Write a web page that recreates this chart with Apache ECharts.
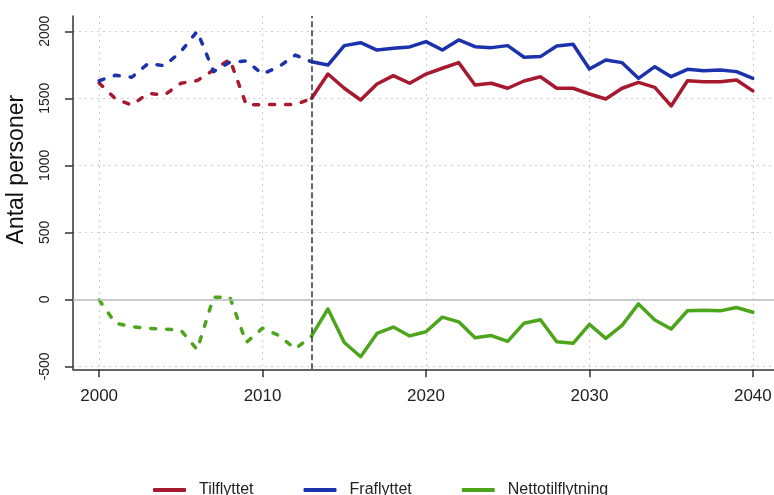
<!DOCTYPE html>
<html><head><meta charset="utf-8">
<script src="https://cdn.jsdelivr.net/npm/echarts@6/dist/echarts.min.js"></script>
<style>html,body{margin:0;padding:0;background:#fff}#c{width:774px;height:495px}</style>
</head><body><div id="c"></div>
<script>
const years = [2000,2001,2002,2003,2004,2005,2006,2007,2008,2009,2010,2011,2012,2013,2014,2015,2016,2017,2018,2019,2020,2021,2022,2023,2024,2025,2026,2027,2028,2029,2030,2031,2032,2033,2034,2035,2036,2037,2038,2039,2040];
const tilflyttet = [1615,1495,1450,1537,1525,1612,1632,1711,1790,1452,1452,1455,1452,1500,1681,1575,1487,1607,1669,1612,1681,1724,1766,1599,1612,1575,1629,1661,1575,1575,1532,1495,1575,1619,1582,1443,1631,1624,1624,1637,1555];
const fraflyttet = [1631,1672,1657,1760,1743,1848,2000,1699,1769,1778,1681,1736,1822,1773,1748,1893,1915,1860,1873,1883,1923,1860,1935,1885,1878,1893,1806,1811,1890,1903,1719,1786,1766,1649,1736,1661,1716,1706,1711,1699,1649];
const netto = [-5,-178,-204,-216,-222,-230,-375,15,15,-322,-215,-270,-370,-273,-72,-322,-428,-254,-207,-273,-242,-133,-168,-287,-270,-314,-178,-152,-316,-328,-187,-291,-194,-34,-154,-221,-85,-81,-86,-61,-96];
const seriesNames = ['Tilflyttet','Fraflyttet','Nettotilflytning'];
const xTicks = [2000,2010,2020,2030,2040];
const yTicks = [-500,0,500,1000,1500,2000];
const splitYear = 2013;

const colors = ['#A6192E','#1C32AC','#4DA51B'];
const splitIdx = years.indexOf(splitYear);
function pairs(vals, from, to){ return years.slice(from, to+1).map((y,i)=>[y, vals[from+i]]); }
const allVals = [tilflyttet, fraflyttet, netto];

const series = [];
series.push({
  type:'line', data:[], z:1, silent:true,
  markLine:{silent:true, symbol:'none', label:{show:false}, animation:false,
    data:[{yAxis:0, lineStyle:{color:'#bdbdbd', width:1.5, type:'solid'}}]}
});
allVals.forEach((vals,k)=>{
  series.push({name:seriesNames[k], type:'line', data:pairs(vals,0,splitIdx), showSymbol:false, symbol:'none', z:3,
    lineStyle:{color:colors[k], width:3.5, type:[5,11], cap:'round', join:'round'}, itemStyle:{color:colors[k]}});
  series.push({name:seriesNames[k], type:'line', data:pairs(vals,splitIdx,years.length-1), showSymbol:false, symbol:'none', z:3,
    lineStyle:{color:colors[k], width:3.5, type:'solid', cap:'round', join:'round'}, itemStyle:{color:colors[k]}});
});
series.push({
  type:'line', data:[], z:4, silent:true,
  markLine:{silent:true, symbol:'none', label:{show:false}, animation:false,
    data:[{xAxis:splitYear, lineStyle:{color:'#333', width:1.5, type:[6,3]}}]}
});

const chart = echarts.init(document.getElementById('c'), null, {renderer:'canvas'});
const font = 'Liberation Sans, Arial, Helvetica, sans-serif';
chart.setOption({
  animation:false,
  textStyle:{fontFamily:font},
  grid:{left:73, top:16, width:706, height:353.3, containLabel:false, outerBoundsMode:'none'},
  legend:{data:seriesNames, left:148, top:477, itemWidth:33, itemHeight:4, itemGap:50, icon:'roundRect',
    textStyle:{fontSize:16, color:'#222', fontFamily:font, padding:[0,0,0,8]}},
  xAxis:{type:'value', min:1998.4, max:2041.6,
    axisLine:{onZero:false, lineStyle:{color:'#333', width:1.5}},
    axisTick:{show:true, length:8, customValues:xTicks, lineStyle:{color:'#333', width:1.5}},
    axisLabel:{customValues:xTicks, fontSize:17, color:'#222', margin:19, fontFamily:font, formatter:v=>String(v)},
    splitLine:{show:true, lineStyle:{color:'#cfcfcf', width:1, type:[2,4]}}},
  yAxis:{type:'value', min:-522, max:2114,
    name:'Antal personer', nameLocation:'middle', nameGap:45, nameRotate:90,
    nameTextStyle:{fontSize:23, color:'#111', fontFamily:font, padding:[0,0,0,46]},
    axisLine:{show:true, lineStyle:{color:'#333', width:1.5}},
    axisTick:{show:true, length:8, customValues:yTicks, lineStyle:{color:'#333', width:1.5}},
    axisLabel:{customValues:yTicks, rotate:90, fontSize:14, color:'#222', margin:21, fontFamily:font, formatter:v=>String(v)},
    splitLine:{show:true, lineStyle:{color:'#cfcfcf', width:1, type:[2,4]}}},
  series:series
});
</script></body></html>
